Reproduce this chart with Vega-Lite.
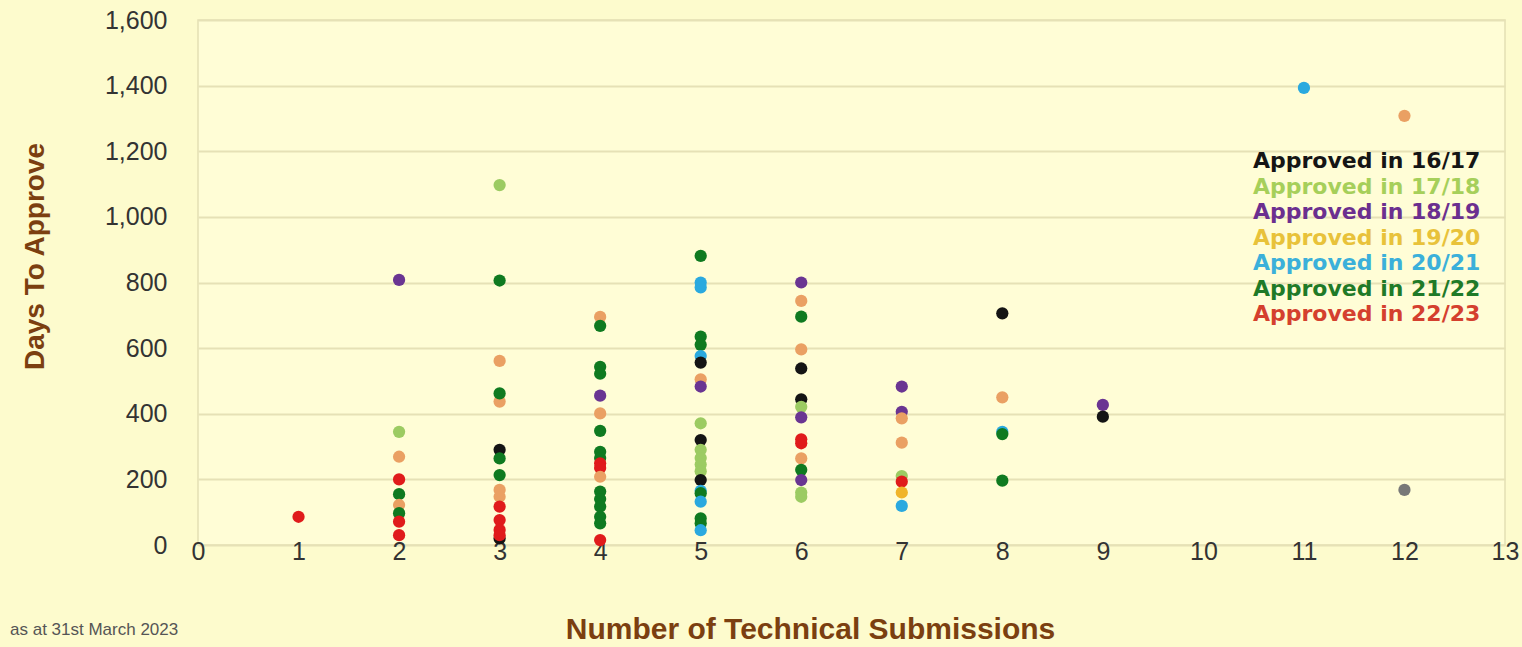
{
  "$schema": "https://vega.github.io/schema/vega-lite/v6.json",
  "width": 1307,
  "height": 525,
  "autosize": {"type": "none"},
  "padding": {"left": 198, "top": 20, "right": 17, "bottom": 102},
  "background": "#FDFBCD",
  "config": {
    "view": {"fill": "#FFFDD6", "stroke": "#E4E0B4", "strokeWidth": 1.5},
    "font": "Liberation Sans"
  },
  "title": {
    "text": "as at 31st March 2023",
    "orient": "bottom",
    "anchor": "start",
    "frame": "group",
    "dx": -188,
    "offset": 0,
    "dy": -22,
    "fontSize": 17,
    "fontWeight": "normal",
    "font": "Liberation Sans",
    "color": "#555555"
  },
  "data": {
    "values": [
      {"x": 1, "days": 86, "year": "Approved in 22/23"},
      {"x": 2, "days": 808, "year": "Approved in 18/19"},
      {"x": 2, "days": 345, "year": "Approved in 17/18"},
      {"x": 2, "days": 269, "year": "Approved in 19/20"},
      {"x": 2, "days": 200, "year": "Approved in 22/23"},
      {"x": 2, "days": 155, "year": "Approved in 21/22"},
      {"x": 2, "days": 122, "year": "Approved in 19/20"},
      {"x": 2, "days": 97, "year": "Approved in 21/22"},
      {"x": 2, "days": 71, "year": "Approved in 22/23"},
      {"x": 2, "days": 30, "year": "Approved in 22/23"},
      {"x": 3, "days": 1097, "year": "Approved in 17/18"},
      {"x": 3, "days": 806, "year": "Approved in 21/22"},
      {"x": 3, "days": 561, "year": "Approved in 19/20"},
      {"x": 3, "days": 437, "year": "Approved in 19/20"},
      {"x": 3, "days": 462, "year": "Approved in 21/22"},
      {"x": 3, "days": 290, "year": "Approved in 16/17"},
      {"x": 3, "days": 264, "year": "Approved in 21/22"},
      {"x": 3, "days": 213, "year": "Approved in 21/22"},
      {"x": 3, "days": 168, "year": "Approved in 19/20"},
      {"x": 3, "days": 147, "year": "Approved in 19/20"},
      {"x": 3, "days": 117, "year": "Approved in 22/23"},
      {"x": 3, "days": 76, "year": "Approved in 22/23"},
      {"x": 3, "days": 20, "year": "Approved in 16/17"},
      {"x": 3, "days": 46, "year": "Approved in 22/23"},
      {"x": 3, "days": 30, "year": "Approved in 22/23"},
      {"x": 4, "days": 695, "year": "Approved in 19/20"},
      {"x": 4, "days": 668, "year": "Approved in 21/22"},
      {"x": 4, "days": 543, "year": "Approved in 21/22"},
      {"x": 4, "days": 522, "year": "Approved in 21/22"},
      {"x": 4, "days": 455, "year": "Approved in 18/19"},
      {"x": 4, "days": 401, "year": "Approved in 19/20"},
      {"x": 4, "days": 348, "year": "Approved in 21/22"},
      {"x": 4, "days": 284, "year": "Approved in 21/22"},
      {"x": 4, "days": 265, "year": "Approved in 21/22"},
      {"x": 4, "days": 249, "year": "Approved in 22/23"},
      {"x": 4, "days": 235, "year": "Approved in 22/23"},
      {"x": 4, "days": 208, "year": "Approved in 19/20"},
      {"x": 4, "days": 163, "year": "Approved in 21/22"},
      {"x": 4, "days": 140, "year": "Approved in 21/22"},
      {"x": 4, "days": 117, "year": "Approved in 21/22"},
      {"x": 4, "days": 86, "year": "Approved in 21/22"},
      {"x": 4, "days": 66, "year": "Approved in 21/22"},
      {"x": 4, "days": 15, "year": "Approved in 22/23"},
      {"x": 5, "days": 881, "year": "Approved in 21/22"},
      {"x": 5, "days": 800, "year": "Approved in 20/21"},
      {"x": 5, "days": 785, "year": "Approved in 20/21"},
      {"x": 5, "days": 635, "year": "Approved in 21/22"},
      {"x": 5, "days": 610, "year": "Approved in 21/22"},
      {"x": 5, "days": 576, "year": "Approved in 20/21"},
      {"x": 5, "days": 556, "year": "Approved in 16/17"},
      {"x": 5, "days": 505, "year": "Approved in 19/20"},
      {"x": 5, "days": 483, "year": "Approved in 18/19"},
      {"x": 5, "days": 371, "year": "Approved in 17/18"},
      {"x": 5, "days": 320, "year": "Approved in 16/17"},
      {"x": 5, "days": 290, "year": "Approved in 17/18"},
      {"x": 5, "days": 265, "year": "Approved in 17/18"},
      {"x": 5, "days": 245, "year": "Approved in 17/18"},
      {"x": 5, "days": 225, "year": "Approved in 17/18"},
      {"x": 5, "days": 198, "year": "Approved in 16/17"},
      {"x": 5, "days": 165, "year": "Approved in 20/21"},
      {"x": 5, "days": 158, "year": "Approved in 21/22"},
      {"x": 5, "days": 132, "year": "Approved in 20/21"},
      {"x": 5, "days": 81, "year": "Approved in 21/22"},
      {"x": 5, "days": 66, "year": "Approved in 21/22"},
      {"x": 5, "days": 45, "year": "Approved in 20/21"},
      {"x": 6, "days": 800, "year": "Approved in 18/19"},
      {"x": 6, "days": 744, "year": "Approved in 19/20"},
      {"x": 6, "days": 696, "year": "Approved in 21/22"},
      {"x": 6, "days": 596, "year": "Approved in 19/20"},
      {"x": 6, "days": 538, "year": "Approved in 16/17"},
      {"x": 6, "days": 444, "year": "Approved in 16/17"},
      {"x": 6, "days": 421, "year": "Approved in 17/18"},
      {"x": 6, "days": 389, "year": "Approved in 18/19"},
      {"x": 6, "days": 310, "year": "Approved in 22/23"},
      {"x": 6, "days": 322, "year": "Approved in 22/23"},
      {"x": 6, "days": 264, "year": "Approved in 19/20"},
      {"x": 6, "days": 229, "year": "Approved in 21/22"},
      {"x": 6, "days": 198, "year": "Approved in 18/19"},
      {"x": 6, "days": 160, "year": "Approved in 17/18"},
      {"x": 6, "days": 147, "year": "Approved in 17/18"},
      {"x": 7, "days": 483, "year": "Approved in 18/19"},
      {"x": 7, "days": 406, "year": "Approved in 18/19"},
      {"x": 7, "days": 386, "year": "Approved in 19/20"},
      {"x": 7, "days": 312, "year": "Approved in 19/20"},
      {"x": 7, "days": 210, "year": "Approved in 17/18"},
      {"x": 7, "days": 193, "year": "Approved in 22/23"},
      {"x": 7, "days": 160, "year": "Unlabelled yellow"},
      {"x": 7, "days": 119, "year": "Approved in 20/21"},
      {"x": 8, "days": 706, "year": "Approved in 16/17"},
      {"x": 8, "days": 450, "year": "Approved in 19/20"},
      {"x": 8, "days": 345, "year": "Approved in 20/21"},
      {"x": 8, "days": 338, "year": "Approved in 21/22"},
      {"x": 8, "days": 196, "year": "Approved in 21/22"},
      {"x": 9, "days": 427, "year": "Approved in 18/19"},
      {"x": 9, "days": 391, "year": "Approved in 16/17"},
      {"x": 11, "days": 1393, "year": "Approved in 20/21"},
      {"x": 12, "days": 1308, "year": "Approved in 19/20"},
      {"x": 12, "days": 168, "year": "Unlabelled grey"}
    ]
  },
  "mark": {"type": "point", "filled": true, "size": 150, "opacity": 1, "strokeWidth": 0},
  "encoding": {
    "x": {
      "field": "x",
      "type": "quantitative",
      "scale": {"domain": [0, 13], "nice": false, "zero": true},
      "axis": {
        "values": [0, 1, 2, 3, 4, 5, 6, 7, 8, 9, 10, 11, 12, 13],
        "format": "d",
        "grid": false,
        "domain": false,
        "ticks": false,
        "tickSize": 0,
        "labelFontSize": 25,
        "labelColor": "#333333",
        "labelBaseline": "middle",
        "labelPadding": 6,
        "labelFlush": false,
        "labelOverlap": false,
        "title": "Number of Technical Submissions",
        "titleFontSize": 30,
        "titleFontWeight": "bold",
        "titleColor": "#7B3F10",
        "titleX": 612,
        "titleY": 84,
        "titleBaseline": "middle",
        "titleAlign": "center"
      }
    },
    "y": {
      "field": "days",
      "type": "quantitative",
      "scale": {"domain": [0, 1600], "nice": false},
      "axis": {
        "values": [0, 200, 400, 600, 800, 1000, 1200, 1400, 1600],
        "format": ",d",
        "grid": true,
        "gridColor": "#E6E1B6",
        "gridWidth": 2,
        "domain": false,
        "ticks": false,
        "tickSize": 0,
        "labelFontSize": 25,
        "labelColor": "#333333",
        "labelPadding": 31,
        "labelOverlap": false,
        "title": "Days To Approve",
        "titleFontSize": 28,
        "titleFontWeight": "bold",
        "titleColor": "#7B3F10",
        "titleAngle": -90,
        "titleX": -163,
        "titleY": 236,
        "titleAlign": "center",
        "titleBaseline": "middle"
      }
    },
    "color": {
      "field": "year",
      "type": "nominal",
      "scale": {
        "domain": ["Approved in 16/17", "Approved in 17/18", "Approved in 18/19", "Approved in 19/20", "Approved in 20/21", "Approved in 21/22", "Approved in 22/23", "Unlabelled yellow", "Unlabelled grey"],
        "range": ["#141414", "#9CCB62", "#6A3592", "#EAA063", "#2AA9DF", "#0F7A20", "#E01B1B", "#F0B42A", "#787878"]
      },
      "legend": {
        "values": ["Approved in 16/17", "Approved in 17/18", "Approved in 18/19", "Approved in 19/20", "Approved in 20/21", "Approved in 21/22", "Approved in 22/23"],
        "title": null,
        "orient": "none",
        "legendX": 1033,
        "legendY": 130,
        "symbolSize": 0,
        "symbolOpacity": 0,
        "symbolStrokeWidth": 0,
        "labelOffset": 0,
        "labelFont": "DejaVu Sans",
        "labelFontWeight": "bold",
        "labelFontSize": 22,
        "labelLimit": 400,
        "rowPadding": 3.5,
        "padding": 0,
        "encode": {
          "labels": {
            "update": {
              "fill": {"signal": "({'Approved in 16/17':'#151515','Approved in 17/18':'#A6CF5A','Approved in 18/19':'#6B2F8F','Approved in 19/20':'#E8C23A','Approved in 20/21':'#3BB0DA','Approved in 21/22':'#1F7A28','Approved in 22/23':'#D4402E'})[datum.label]"}
            }
          }
        }
      }
    }
  }
}
